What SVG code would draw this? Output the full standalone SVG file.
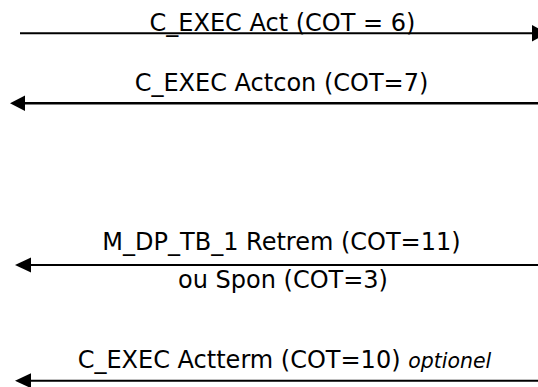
<svg xmlns="http://www.w3.org/2000/svg" width="538" height="387" viewBox="0 0 538 387">
<style>
.lbl{font-family:"DejaVu Sans","Verdana",sans-serif;font-size:24px;fill:#000;text-anchor:middle}
.it{font-style:italic;font-size:20.5px}
.msg{stroke:#000;stroke-width:2;fill:none}
.head{fill:#000;stroke:none}
</style>
<rect width="538" height="387" fill="#fff"/>
<g id="connectors">
<line class="msg" x1="20" y1="33.3" x2="534" y2="33.3"/>
<polygon class="head" points="532,25 547,33.3 532,41.6"/>
<line class="msg" x1="24" y1="103.3" x2="538" y2="103.3" style="stroke-width:2.6"/>
<polygon class="head" points="10,103.3 25,95.5 25,111"/>
<line class="msg" x1="28" y1="265" x2="538" y2="265"/>
<polygon class="head" points="15,265 31,257.5 31,272.5"/>
<line class="msg" x1="28" y1="380.7" x2="538" y2="380.7"/>
<polygon class="head" points="15,380.7 31,373.2 31,388.2"/>
</g>
<g id="msg1"><text class="lbl" x="282.5" y="31">C_EXEC Act (COT = 6)</text></g>
<g id="msg2"><text class="lbl" x="281.5" y="90.5">C_EXEC Actcon (COT=7)</text></g>
<g id="msg3">
<text class="lbl" x="281.5" y="250">M_DP_TB_1 Retrem (COT=11)</text>
<text class="lbl" x="283" y="288">ou Spon (COT=3)</text>
</g>
<g id="msg4"><text class="lbl" x="284.5" y="368">C_EXEC Actterm (COT=10) <tspan class="it">optionel</tspan></text></g>
</svg>
